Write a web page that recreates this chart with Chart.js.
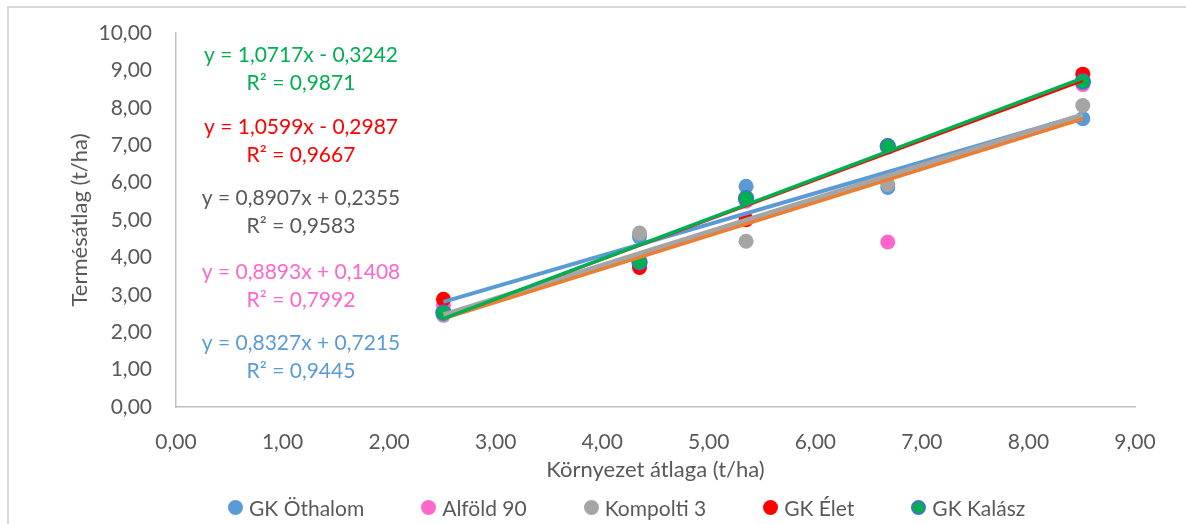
<!DOCTYPE html>
<html>
<head>
<meta charset="utf-8">
<script src="https://cdn.jsdelivr.net/npm/chart.js@4.4.1/dist/chart.umd.min.js"></script>
<style>
    body { margin: 0; background: #fff; }
    #wrap { position: relative; width: 1186px; height: 524px; overflow: hidden; background: #fff; }
    #frame { position: absolute; left: 7px; top: 6px; width: 1200px; height: 540px; border: 2px solid #D9D9D9; box-sizing: border-box; }
    #myChart { position: absolute; left: 0; top: 0; }
    #legend { position: absolute; left: 228px; top: 495px; display: flex; gap: 57px; font-family: Lato, sans-serif; font-size: 21px; color: #595959; }
    #legend .item { display: flex; align-items: center; white-space: nowrap; }
    #legend .dot { width: 15px; height: 15px; border-radius: 50%; margin-right: 6px; box-sizing: border-box; }
</style>
</head>
<body>
<div id="wrap">
    <div id="frame"></div>
    <canvas id="myChart" width="1186" height="524"></canvas>
    <div id="legend"></div>
</div>
<script>
// environment means (x) and yields per variety (y), t/ha
const envMeans = [2.51, 4.35, 5.35, 6.68, 8.51];
const varieties = ['GK Öthalom', 'Alföld 90', 'Kompolti 3', 'GK Élet', 'GK Kalász'];
const gkOthalom = [2.55, 4.55, 5.90, 5.87, 7.71];
const alfold90 = [2.72, 3.92, 5.50, 4.41, 8.62];
const kompolti3 = [2.45, 4.65, 4.43, 5.95, 8.06];
const gkElet = [2.88, 3.73, 5.01, 6.98, 8.90];
const gkKalasz = [2.52, 3.87, 5.58, 6.97, 8.70];

// linear trendlines as printed on the chart
const slopes = [0.8327, 0.8893, 0.8907, 1.0599, 1.0717];
const intercepts = [0.7215, 0.1408, 0.2355, -0.2987, -0.3242];
const rSquared = [0.9445, 0.7992, 0.9583, 0.9667, 0.9871];

const xTicks = [0, 1, 2, 3, 4, 5, 6, 7, 8, 9];
const yTicks = [0, 1, 2, 3, 4, 5, 6, 7, 8, 9, 10];

const yields = [gkOthalom, alfold90, kompolti3, gkElet, gkKalasz];
const pointColors = ['#5B9BD5', '#FF66CC', '#A5A5A5', '#FF0000', '#00B050'];
const pointBorders = ['#5B9BD5', '#FF66CC', '#A5A5A5', '#FF0000', '#4472C4'];
const trendColors = ['#5B9BD5', '#ED7D31', '#A5A5A5', '#FF0000', '#00B050'];
const trendWidths = [4, 4, 4.5, 2.5, 3.5];
const labelColors = ['#5B9BD5', '#FF66CC', '#595959', '#FF0000', '#00B050'];
const labelTops = [343, 272, 198, 127, 55];

const fmt = v => Math.abs(v).toFixed(2).replace('.', ',');
const fmt4 = v => Math.abs(v).toFixed(4).replace('.', ',');

let datasets = [];
yields.forEach(function(vals, i) {
    datasets.push({
        label: varieties[i],
        data: envMeans.map((x, k) => ({x: x, y: vals[k]})),
        backgroundColor: pointColors[i],
        borderColor: pointBorders[i],
        borderWidth: i === 4 ? 1.5 : 0,
        pointRadius: 7.5,
        order: 5 - i
    });
});
yields.forEach(function(vals, i) {
    let x0 = Math.min(...envMeans), x1 = Math.max(...envMeans);
    datasets.push({
        label: 'trend ' + varieties[i],
        data: [x0, x1].map(x => ({x: x, y: slopes[i] * x + intercepts[i]})),
        showLine: true,
        borderColor: trendColors[i],
        borderWidth: trendWidths[i],
        pointRadius: 0,
        order: -(i + 1),
        isTrend: true
    });
});

const equations = {
    id: 'equations',
    afterDraw(chart) {
        let ctx = chart.ctx;
        ctx.save();
        ctx.font = '21px Lato';
        ctx.textAlign = 'center';
        ctx.textBaseline = 'middle';
        for (let i = 0; i < slopes.length; i++) {
            let eq = 'y = ' + fmt4(slopes[i]) + 'x ' + (intercepts[i] < 0 ? '- ' : '+ ') + fmt4(intercepts[i]);
            ctx.fillStyle = labelColors[i];
            ctx.fillText(eq, 301, labelTops[i]);
            ctx.fillText('R² = ' + fmt4(rSquared[i]), 301, labelTops[i] + 28);
        }
        ctx.restore();
    }
};

const htmlLegend = {
    id: 'htmlLegend',
    afterUpdate(chart) {
        let box = document.getElementById('legend');
        box.innerHTML = '';
        chart.data.datasets.filter(d => !d.isTrend).forEach(function(d) {
            let item = document.createElement('div');
            item.className = 'item';
            let dot = document.createElement('span');
            dot.className = 'dot';
            dot.style.background = d.backgroundColor;
            if (d.borderWidth) dot.style.border = '2px solid ' + d.borderColor;
            item.appendChild(dot);
            item.appendChild(document.createTextNode(d.label));
            box.appendChild(item);
        });
    }
};

let ctx = document.getElementById('myChart').getContext('2d');
let myChart = new Chart(ctx, {
    type: 'scatter',
    data: { datasets: datasets },
    options: {
        responsive: false,
        animation: false,
        layout: { padding: { left: 56, top: 33, right: 51, bottom: 38 } },
        plugins: { legend: { display: false }, tooltip: { enabled: false } },
        scales: {
            x: {
                min: xTicks[0],
                max: xTicks[xTicks.length - 1],
                afterBuildTicks: s => { s.ticks = xTicks.map(v => ({value: v})); },
                afterFit: s => { s.height = 79; },
                grid: { display: false },
                border: { display: true, color: '#BFBFBF', width: 1.5 },
                ticks: { color: '#595959', font: { family: 'Lato', size: 21 }, padding: 15, callback: v => fmt(v) },
                title: { display: true, text: 'Környezet átlaga (t/ha)', color: '#595959', font: { family: 'Lato', size: 22 }, padding: { bottom: 3 } }
            },
            y: {
                min: yTicks[0],
                max: yTicks[yTicks.length - 1],
                afterBuildTicks: s => { s.ticks = yTicks.map(v => ({value: v})); },
                afterFit: s => { s.width = 120; },
                grid: { display: false },
                border: { display: true, color: '#BFBFBF', width: 1.5 },
                ticks: { color: '#595959', font: { family: 'Lato', size: 21 }, padding: 16, callback: v => fmt(v) },
                title: { display: true, text: 'Termésátlag (t/ha)', color: '#595959', font: { family: 'Lato', size: 22 }, padding: { top: 11 } }
            }
        }
    },
    plugins: [equations, htmlLegend]
});
</script>
</body>
</html>
